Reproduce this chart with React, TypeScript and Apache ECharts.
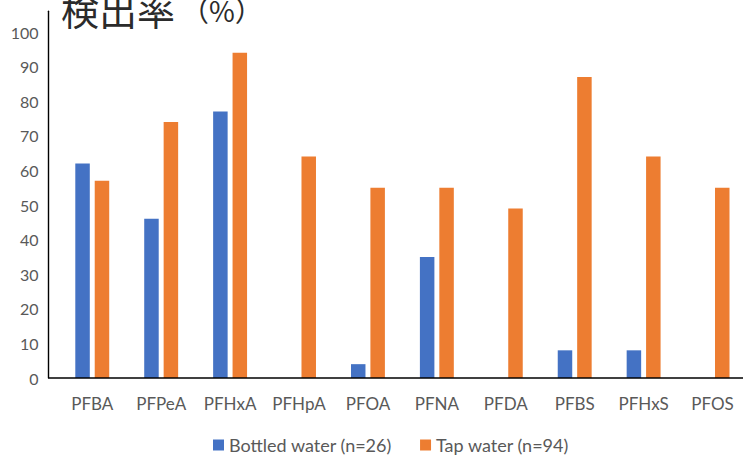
import React, { useEffect, useRef } from "react";
import * as echarts from "echarts";

// Detection rate (%) of PFAS compounds in bottled vs tap water
const categories = ["PFBA", "PFPeA", "PFHxA", "PFHpA", "PFOA", "PFNA", "PFDA", "PFBS", "PFHxS", "PFOS"];
const bottledWater = [62, 46, 77, 0, 4, 35, 0, 8, 8, 0];
const tapWater = [57, 74, 94, 64, 55, 55, 49, 87, 64, 55];
const seriesNames = ["Bottled water (n=26)", "Tap water (n=94)"];
const yTitleMain = "検出率";
const yTitleUnit = "（%）";

const FONT = "Lato, 'Noto Sans', sans-serif";
const CJK_FONT = "'Noto Sans CJK JP', sans-serif";
const LABEL_COLOR = "#595959";

export default function App() {
  const ref = useRef<HTMLDivElement>(null);

  useEffect(() => {
    if (!ref.current) return;
    const chart = echarts.init(ref.current, undefined, { renderer: "svg" });
    chart.setOption({
      animation: false,
      backgroundColor: "#ffffff",
      grid: { left: 57.8, width: 694.2, top: 11.3, bottom: 83 },
      legend: {
        data: seriesNames,
        left: 208,
        top: 431,
        icon: "rect",
        itemWidth: 11,
        itemHeight: 11,
        itemGap: 28,
        textStyle: { fontFamily: FONT, fontSize: 18, color: LABEL_COLOR },
      },
      xAxis: {
        type: "category",
        data: categories,
        axisLine: { show: false },
        axisTick: { show: false },
        axisLabel: {
          interval: 0,
          hideOverlap: false,
          fontFamily: FONT,
          fontSize: 17,
          color: LABEL_COLOR,
          margin: 17,
        },
      },
      yAxis: {
        type: "value",
        min: 0,
        max: 106,
        interval: 10,
        offset: 9.3,
        axisLine: { show: true, lineStyle: { color: "#000", width: 1.4 } },
        axisTick: { show: false },
        splitLine: { show: false },
        axisLabel: {
          showMaxLabel: false,
          fontFamily: FONT,
          fontSize: 16,
          color: LABEL_COLOR,
          margin: 10,
        },
      },
      series: [
        {
          name: seriesNames[0],
          type: "bar",
          data: bottledWater,
          barWidth: 14.5,
          barGap: "34%",
          itemStyle: { color: "#4472C4" },
        },
        {
          name: seriesNames[1],
          type: "bar",
          data: tapWater,
          barWidth: 14.5,
          barGap: "34%",
          itemStyle: { color: "#ED7D31" },
        },
      ],
      graphic: [
        {
          type: "line",
          shape: { x1: 48.5, y1: 378, x2: 743, y2: 378 },
          style: { stroke: "#000", lineWidth: 1.4 },
          z: 10,
        },
        {
          type: "text",
          left: 61,
          top: -11,
          style: {
            text: yTitleMain,
            fontFamily: CJK_FONT,
            fontSize: 38,
            fill: "#2b2b2b",
          },
        },
        {
          type: "text",
          left: 181,
          top: -4,
          style: {
            text: yTitleUnit,
            fontFamily: CJK_FONT,
            fontSize: 28,
            fill: "#2b2b2b",
          },
        },
      ],
    });
    return () => chart.dispose();
  }, []);

  return (
    <div
      ref={ref}
      style={{ position: "fixed", left: 0, top: 0, width: 747, height: 461 }}
    />
  );
}
